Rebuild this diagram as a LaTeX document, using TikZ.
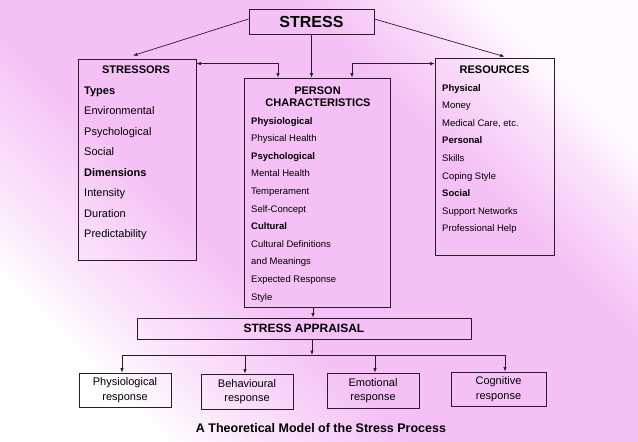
\documentclass[tikz,border=0pt]{standalone}
\usepackage{fontspec}
\setmainfont{Liberation Sans}
\usetikzlibrary{arrows.meta}
\definecolor{bgpink}{RGB}{245,192,245}
\definecolor{linec}{RGB}{40,30,40}
\pgfdeclareverticalshading{bgshade}{100bp}{color(0bp)=(white); color(25bp)=(white); color(32bp)=(bgpink!45!white); color(42bp)=(bgpink); color(63bp)=(bgpink); color(71bp)=(bgpink!45!white); color(75bp)=(bgpink!10!white); color(100bp)=(bgpink!10!white)}
\begin{document}
\begin{tikzpicture}[x=1pt,y=-1pt,
  box/.style={draw=linec,line width=0.8pt,inner sep=0pt,align=center},
  arr/.style={draw=linec,line width=0.7pt,-{Latex[length=4.5pt,width=3.5pt]}},
  dbl/.style={draw=linec,line width=0.7pt,{Latex[length=4.5pt,width=3.5pt]}-{Latex[length=4.5pt,width=3.5pt]}},
  itemL/.style={anchor=base west,inner sep=0pt,font=\fontsize{11}{13}\selectfont},
  itemS/.style={anchor=base west,inner sep=0pt,font=\fontsize{9.5}{11}\selectfont},
  headL/.style={anchor=base,inner sep=0pt,font=\fontsize{11}{13}\selectfont\bfseries},
  resp/.style={box,font=\fontsize{11}{14.5}\selectfont}]
\shade[shading=bgshade,shading angle=-45] (0,0) rectangle (638,442);
\useasboundingbox (0,0) rectangle (638,442);

% boxes
\node[box,minimum width=125pt,minimum height=25pt,font=\fontsize{16}{18}\selectfont\bfseries] (stress) at (311.5,21.5) {STRESS};
\node[box,minimum width=118pt,minimum height=201pt] (stressors) at (137,159.5) {};
\node[box,minimum width=146pt,minimum height=229pt] (person) at (317,192.5) {};
\node[box,minimum width=119pt,minimum height=197pt] (resources) at (494.5,156.5) {};
\node[box,minimum width=334pt,minimum height=21pt,font=\fontsize{12}{14}\selectfont\bfseries] (appraisal) at (304,328.5) {STRESS APPRAISAL};
\node[resp,minimum width=92pt,minimum height=34pt] (phys) at (125,390) {Physiological\\response};
\node[resp,minimum width=92pt,minimum height=35pt] (beh) at (247,391.5) {Behavioural\\response};
\node[resp,minimum width=92pt,minimum height=35pt] (emo) at (373,390.5) {Emotional\\response};
\node[resp,minimum width=95pt,minimum height=34pt] (cog) at (498.5,389) {Cognitive\\response};

% STRESSORS text
\node[headL] (st0) at (136,73) {STRESSORS};
\node[itemL,font=\fontsize{11}{13}\selectfont\bfseries] (st1) at (84,94) {Types};
\node[itemL] (st2) at (84,114.5) {Environmental};
\node[itemL] (st3) at (84,135) {Psychological};
\node[itemL] (st4) at (84,155.5) {Social};
\node[itemL,font=\fontsize{11}{13}\selectfont\bfseries] (st5) at (84,176) {Dimensions};
\node[itemL] (st6) at (84,196.5) {Intensity};
\node[itemL] (st7) at (84,217) {Duration};
\node[itemL] (st8) at (84,237.5) {Predictability};

% PERSON text
\node[headL] (pc0) at (317.5,94) {PERSON};
\node[headL] (pc1) at (318,106) {CHARACTERISTICS};
\node[itemS,font=\fontsize{9.5}{11}\selectfont\bfseries] (pc2) at (251,124) {Physiological};
\node[itemS] (pc3) at (251,141.6) {Physical Health};
\node[itemS,font=\fontsize{9.5}{11}\selectfont\bfseries] (pc4) at (251,159.2) {Psychological};
\node[itemS] (pc5) at (251,176.8) {Mental Health};
\node[itemS] (pc6) at (251,194.4) {Temperament};
\node[itemS] (pc7) at (251,212) {Self-Concept};
\node[itemS,font=\fontsize{9.5}{11}\selectfont\bfseries] (pc8) at (251,229.6) {Cultural};
\node[itemS] (pc9) at (251,247.2) {Cultural Definitions};
\node[itemS] (pc10) at (251,264.8) {and Meanings};
\node[itemS] (pc11) at (251,282.4) {Expected Response};
\node[itemS] (pc12) at (251,300) {Style};

% RESOURCES text
\node[headL] (rs0) at (494.5,73) {RESOURCES};
\node[itemS,font=\fontsize{9.5}{11}\selectfont\bfseries] (rs1) at (442,91) {Physical};
\node[itemS] (rs2) at (442,108.6) {Money};
\node[itemS] (rs3) at (442,126.2) {Medical Care, etc.};
\node[itemS,font=\fontsize{9.5}{11}\selectfont\bfseries] (rs4) at (442,143.8) {Personal};
\node[itemS] (rs5) at (442,161.4) {Skills};
\node[itemS] (rs6) at (442,179) {Coping Style};
\node[itemS,font=\fontsize{9.5}{11}\selectfont\bfseries] (rs7) at (442,196.6) {Social};
\node[itemS] (rs8) at (442,214.2) {Support Networks};
\node[itemS] (rs9) at (442,231.8) {Professional Help};

% caption
\node[anchor=base,inner sep=0pt,font=\fontsize{12.5}{15}\selectfont\bfseries] (cap) at (321,432) {A Theoretical Model of the Stress Process};

% connectors
\draw[arr] ([yshift=2.5pt]stress.west) -- ([xshift=-4pt,yshift=3pt]stressors.north);
\draw[arr] ([yshift=2.5pt]stress.east) -- ([xshift=10pt,yshift=1pt]resources.north);
\draw[arr] (stress.south) -- (stress.south |- person.north);
\draw[dbl] ([yshift=-5pt]stressors.north east) -| ([xshift=-39pt]person.north);
\draw[dbl] ([xshift=35pt]person.north) |- ([yshift=-6pt]resources.north west);
\draw[arr] ([xshift=-4pt]person.south) -- ([xshift=-4pt]person.south |- appraisal.north);
\coordinate (j) at (312,355);
\coordinate (h1) at (122,355);
\coordinate (h2) at (245,355);
\coordinate (h3) at (375,355);
\coordinate (h4) at (505,355);
\draw[arr] ([xshift=8pt]appraisal.south) -- (j);
\draw[draw=linec,line width=0.7pt] (h1) -- (h4);
\draw[arr] (h1) -- (h1 |- phys.north);
\draw[arr] (h2) -- (h2 |- beh.north);
\draw[arr] (h3) -- (h3 |- emo.north);
\draw[arr] (h4) -- (h4 |- cog.north);
\end{tikzpicture}
\end{document}
